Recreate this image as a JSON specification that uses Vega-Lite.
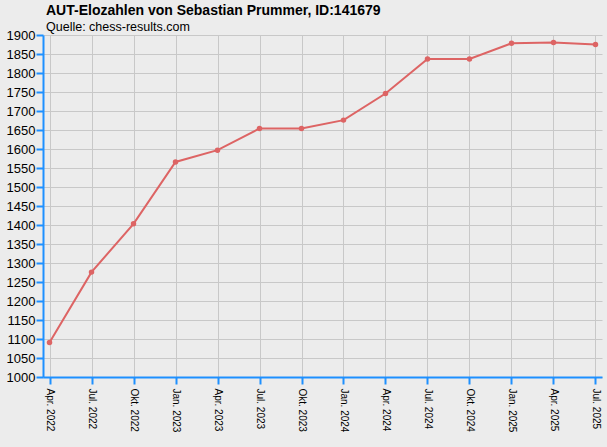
{
  "$schema": "https://vega.github.io/schema/vega-lite/v6.json",
  "autosize": {"type": "none"},
  "width": 559,
  "height": 342,
  "padding": {"left": 43, "top": 35, "right": 5, "bottom": 70},
  "background": "#ececec",
  "title": {
    "text": "AUT-Elozahlen von Sebastian Prummer, ID:141679",
    "subtitle": "Quelle: chess-results.com",
    "anchor": "start",
    "frame": "group",
    "dx": 3,
    "offset": -4,
    "font": "Liberation Sans",
    "fontSize": 14,
    "fontWeight": "bold",
    "color": "#000000",
    "subtitleFont": "Liberation Sans",
    "subtitleFontSize": 12.5,
    "subtitleColor": "#000000",
    "subtitlePadding": 3
  },
  "data": {
    "values": [
      {"datum": "Apr. 2022", "elo": 1091},
      {"datum": "Jul. 2022", "elo": 1276},
      {"datum": "Okt. 2022", "elo": 1403},
      {"datum": "Jan. 2023", "elo": 1566},
      {"datum": "Apr. 2023", "elo": 1597},
      {"datum": "Jul. 2023", "elo": 1654},
      {"datum": "Okt. 2023", "elo": 1654},
      {"datum": "Jan. 2024", "elo": 1676},
      {"datum": "Apr. 2024", "elo": 1746},
      {"datum": "Jul. 2024", "elo": 1837},
      {"datum": "Okt. 2024", "elo": 1837},
      {"datum": "Jan. 2025", "elo": 1878},
      {"datum": "Apr. 2025", "elo": 1880},
      {"datum": "Jul. 2025", "elo": 1875}
    ]
  },
  "config": {
    "view": {"stroke": null, "fill": "#ececec"},
    "axis": {
      "gridColor": "#c8c8c8",
      "gridWidth": 1,
      "domainColor": "#1e90ff",
      "domainWidth": 2,
      "tickColor": "#1e90ff",
      "tickWidth": 2,
      "tickSize": 7,
      "labelColor": "#000000",
      "labelFont": "Liberation Sans",
      "title": null
    }
  },
  "encoding": {
    "x": {
      "field": "datum",
      "type": "ordinal",
      "sort": null,
      "scale": {"type": "point", "padding": 0.155},
      "axis": {
        "labelAngle": 90,
        "labelAlign": "left",
        "labelBaseline": "middle",
        "labelFontSize": 10,
        "labelPadding": 4,
        "grid": true,
        "title": null
      }
    },
    "y": {
      "field": "elo",
      "type": "quantitative",
      "scale": {"domain": [1000, 1900], "nice": false, "zero": false},
      "axis": {
        "values": [1000,1050,1100,1150,1200,1250,1300,1350,1400,1450,1500,1550,1600,1650,1700,1750,1800,1850,1900],
        "format": "d",
        "labelFontSize": 13,
        "labelPadding": 1,
        "grid": true,
        "title": null
      }
    }
  },
  "layer": [
    {"mark": {"type": "line", "color": "#dd6464", "strokeWidth": 2}},
    {"mark": {"type": "point", "filled": true, "color": "#dd6464", "opacity": 1, "size": 30}}
  ]
}
